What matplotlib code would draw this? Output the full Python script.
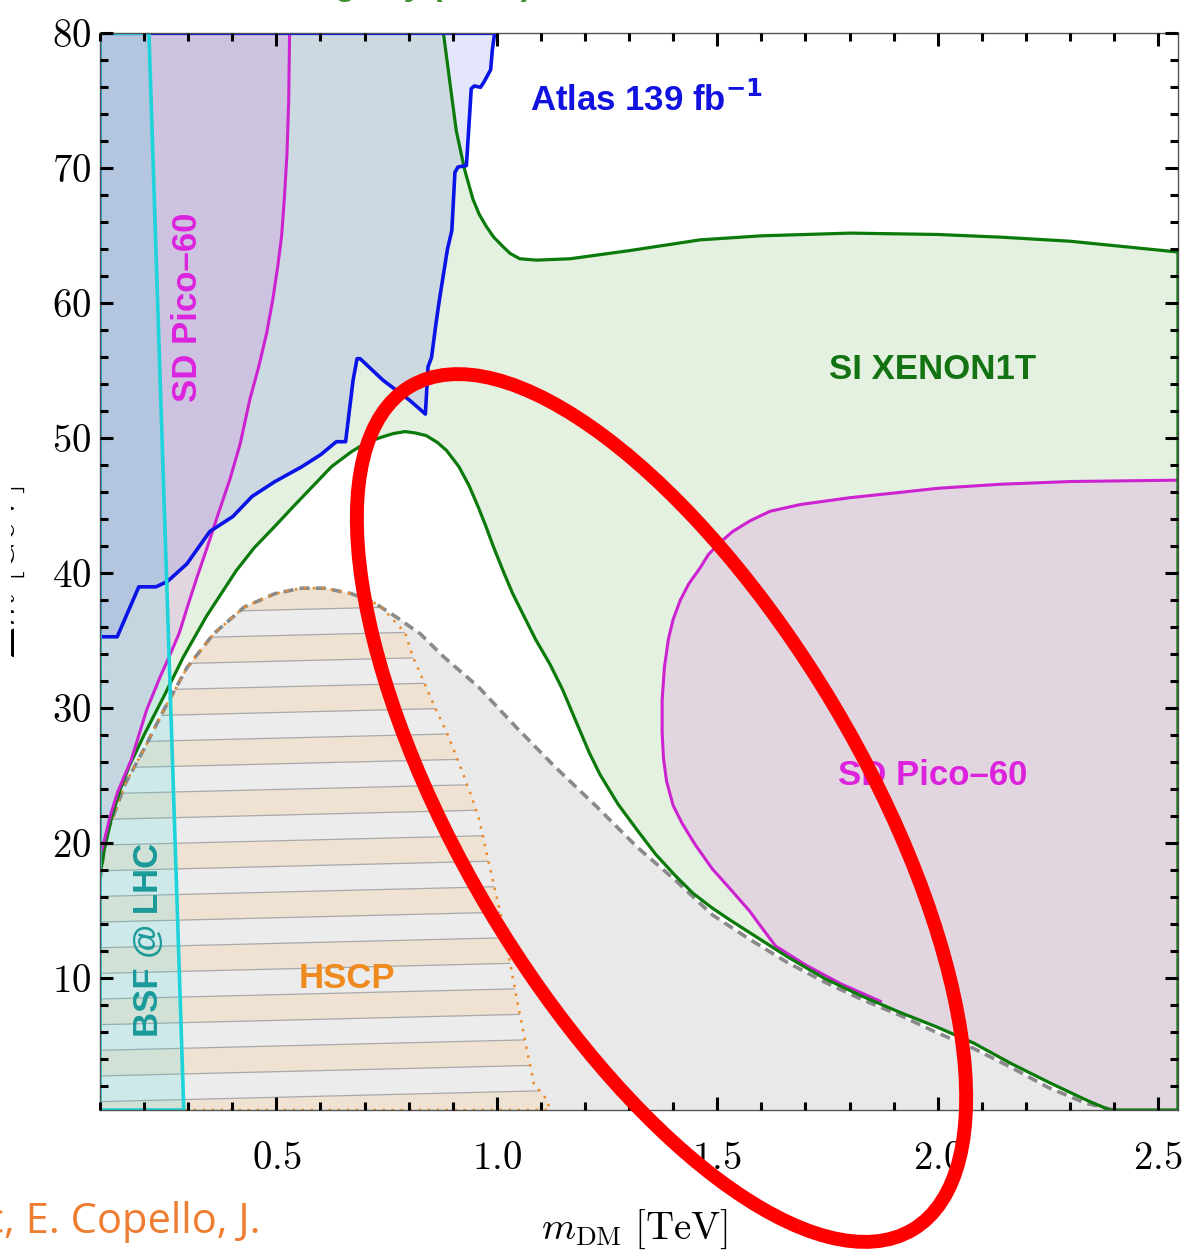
import numpy as np
import matplotlib
matplotlib.use("Agg")
import matplotlib.pyplot as plt
from matplotlib.patches import Polygon, Ellipse
from matplotlib.transforms import Bbox
from matplotlib.ticker import MultipleLocator, FixedLocator, FuncFormatter

# ---------------- data ----------------
x_range = [0.1, 2.545]
y_range = [0.25, 80.0]

# ATLAS 139 fb^-1 exclusion boundary (excluded: upper left)
atlas_x = [0.100, 0.139, 0.188, 0.227, 0.253, 0.297, 0.349, 0.401, 0.445, 0.497,
           0.558, 0.601, 0.636, 0.657, 0.674, 0.683, 0.690, 0.742, 0.803, 0.838,
           0.844, 0.852, 0.862, 0.870, 0.888, 0.898, 0.905, 0.912, 0.931, 0.938,
           0.942, 0.949, 0.963, 0.971, 0.986, 0.990, 0.995]
atlas_y = [35.3, 35.3, 39.0, 39.0, 39.4, 40.7, 43.1, 44.2, 45.7, 46.8,
           47.9, 48.8, 49.75, 49.75, 54.3, 55.9, 55.9, 54.3, 52.8, 51.8,
           55.3, 56.0, 58.5, 60.3, 64.0, 65.4, 69.7, 70.1, 70.2, 73.8,
           75.9, 76.1, 76.0, 76.4, 77.3, 78.8, 80.0]

# SI XENON1T: lower and upper boundaries
xenon_lo_x = [0.100, 0.110, 0.127, 0.145, 0.166, 0.201, 0.245, 0.289, 0.341, 0.409,
              0.450, 0.497, 0.540, 0.584, 0.625, 0.670, 0.705, 0.740, 0.765, 0.792,
              0.815, 0.840, 0.865, 0.886, 0.914, 0.937, 0.958, 0.975, 0.992, 1.014,
              1.036, 1.062, 1.088, 1.120, 1.149, 1.180, 1.210, 1.234, 1.275, 1.318,
              1.360, 1.405, 1.445, 1.489, 1.530, 1.573, 1.659, 1.743, 1.827, 1.913,
              1.998, 2.082, 2.166, 2.252, 2.336, 2.390]
xenon_lo_y = [17.6, 19.6, 22.0, 23.9, 25.7, 28.1, 30.9, 33.8, 36.8, 40.2,
              41.9, 43.5, 45.0, 46.5, 47.9, 49.0, 49.7, 50.1, 50.35, 50.5,
              50.4, 50.2, 49.7, 49.1, 47.9, 46.5, 44.9, 43.5, 42.0, 40.2,
              38.5, 36.8, 35.1, 33.3, 31.4, 29.0, 26.7, 25.1, 22.9, 21.0,
              19.2, 17.6, 16.3, 15.2, 14.3, 13.4, 11.6, 10.0, 8.7, 7.5,
              6.4, 5.2, 3.7, 2.3, 1.0, 0.25]
xenon_up_x = [0.879, 0.893, 0.908, 0.927, 0.946, 0.960, 0.976, 0.993, 1.014, 1.030,
              1.052, 1.090, 1.166, 1.300, 1.461, 1.600, 1.802, 2.000, 2.143, 2.300,
              2.545]
xenon_up_y = [80.0, 76.5, 72.8, 69.9, 67.7, 66.6, 65.7, 64.9, 64.2, 63.7,
              63.3, 63.2, 63.3, 63.9, 64.7, 65.0, 65.2, 65.1, 64.9, 64.6,
              63.8]

# SD Pico-60: left region boundary and right region boundary
pico_l_x = [0.100, 0.106, 0.123, 0.140, 0.158, 0.171, 0.188, 0.206, 0.236, 0.258,
            0.280, 0.300, 0.323, 0.345, 0.366, 0.395, 0.418, 0.440, 0.460, 0.478,
            0.492, 0.503, 0.512, 0.518, 0.524, 0.528, 0.530]
pico_l_y = [19.2, 19.7, 22.0, 23.8, 25.2, 26.2, 28.0, 29.9, 32.3, 33.9,
            35.6, 37.7, 40.0, 42.1, 44.2, 47.0, 49.6, 52.9, 55.3, 57.8,
            60.3, 62.7, 65.0, 67.7, 71.0, 75.0, 80.0]
pico_r_x = [2.545, 2.300, 2.143, 2.000, 1.916, 1.800, 1.689, 1.620, 1.575, 1.535,
            1.507, 1.480, 1.461, 1.435, 1.416, 1.400, 1.389, 1.380, 1.375, 1.375,
            1.378, 1.385, 1.400, 1.420, 1.450, 1.489, 1.530, 1.573, 1.600, 1.632,
            1.700, 1.780, 1.870]
pico_r_y = [46.9, 46.8, 46.6, 46.3, 46.0, 45.6, 45.1, 44.6, 43.9, 43.1,
            42.3, 41.4, 40.4, 39.2, 38.0, 36.6, 35.1, 33.0, 30.6, 28.2,
            26.3, 24.6, 22.8, 21.5, 19.9, 18.1, 16.6, 15.0, 13.8, 12.4,
            11.0, 9.6, 8.3]

# grey dashed envelope
dash_x = [0.100, 0.114, 0.157, 0.200, 0.245, 0.297, 0.357, 0.427, 0.497, 0.557,
          0.609, 0.670, 0.723, 0.775, 0.827, 0.880, 0.958, 1.044, 1.131, 1.227,
          1.319, 1.404, 1.489, 1.573, 1.658, 1.742, 1.827, 1.912, 1.997, 2.082,
          2.167, 2.250, 2.336, 2.400]
dash_y = [17.3, 20.6, 24.4, 27.0, 29.9, 33.0, 35.5, 37.5, 38.5, 38.9,
          38.9, 38.5, 37.8, 36.7, 35.5, 33.8, 31.6, 28.6, 25.7, 22.7,
          19.7, 17.3, 14.7, 12.9, 11.2, 9.75, 8.45, 7.3, 6.0, 4.8,
          3.4, 1.93, 0.75, 0.25]

# HSCP region upper boundary
hscp_x = [0.100, 0.114, 0.157, 0.200, 0.245, 0.297, 0.357, 0.427, 0.497, 0.557,
          0.609, 0.670, 0.723, 0.741, 0.792, 0.810, 0.836, 0.862, 0.888, 0.905,
          0.923, 0.940, 0.958, 0.971, 0.980, 1.010, 1.036, 1.062, 1.084, 1.114, 1.120]
hscp_y = [17.3, 20.6, 24.4, 27.0, 29.9, 33.0, 35.5, 37.5, 38.5, 38.9,
          38.9, 38.5, 37.8, 37.4, 35.6, 33.8, 31.85, 29.9, 28.1, 26.7,
          25.2, 23.7, 22.0, 20.2, 18.8, 14.6, 10.1, 5.7, 2.2, 1.0, 0.25]

# BSF @ LHC boundary line
bsf_x = [0.211, 0.290]
bsf_y = [80.0, 0.25]

x_major = [0.5, 1.0, 1.5, 2.0, 2.5]
x_major_labels = ["0.5", "1.0", "1.5", "2.0", "2.5"]
y_major = [10, 20, 30, 40, 50, 60, 70, 80]

# ---------------- figure ----------------
plt.rcParams['mathtext.fontset'] = 'cm'
plt.rcParams['font.family'] = ['Liberation Sans', 'DejaVu Sans']

W, H = 1189, 1253
fig = plt.figure(figsize=(W / 100, H / 100), dpi=100)
ax = fig.add_axes([100 / W, 1 - 1110 / H, 1078 / W, (1110 - 33.3) / H])
x0, x1 = x_range
y0, y1 = y_range
ax.set_xlim(x0, x1)
ax.set_ylim(y0, y1)

# grey fill under dashed envelope
ax.fill(np.r_[dash_x, dash_x[0]], np.r_[dash_y, y0], color='#e9e9e9', lw=0, zorder=1.0)

# HSCP region with striped hatch
hpoly = Polygon(np.column_stack([np.r_[hscp_x, x0], np.r_[hscp_y, y0]]), closed=True,
                facecolor='#ececec', edgecolor='none', zorder=1.1)
ax.add_patch(hpoly)
xs = np.linspace(x0, 1.3, 20)
stripe_base, stripe_sp, stripe_slope = 0.87, 1.9, 0.8
for k in range(-1, 22):
    lo = stripe_base + stripe_sp * k + stripe_slope * (xs - x0)
    hi = lo + stripe_sp
    if k % 2 == 1:
        pc = ax.fill_between(xs, lo, hi, color='#efe2d3', lw=0, zorder=1.2)
        pc.set_clip_path(hpoly)
    if k >= 0:
        ln, = ax.plot(xs, lo, color='#a8a8a8', lw=0.9, zorder=1.3)
        ln.set_clip_path(hpoly)

# XENON1T region
xen_px = np.r_[xenon_lo_x, x1, xenon_up_x[::-1], x0]
xen_py = np.r_[xenon_lo_y, y0, xenon_up_y[::-1], y1]
ax.fill(xen_px, xen_py, color='#4b9b30', alpha=0.15, lw=0, zorder=1.4)

# Atlas region
atl_px = np.r_[atlas_x, x0]
atl_py = np.r_[atlas_y, y1]
ax.fill(atl_px, atl_py, color='#505ae6', alpha=0.15, lw=0, zorder=1.5)

# Pico-60 regions
pico_col = '#d23ce6'
ax.fill(np.r_[pico_l_x, x0], np.r_[pico_l_y, y1], color=pico_col, alpha=0.14, lw=0, zorder=1.6)
gx = np.array(xenon_lo_x)
gy = np.array(xenon_lo_y)
sel = gx > pico_r_x[-1]
ax.fill(np.r_[pico_r_x, gx[sel], x1], np.r_[pico_r_y, gy[sel], y0],
        color=pico_col, alpha=0.14, lw=0, zorder=1.6)

# BSF region
bsf_px = [x0, bsf_x[1], bsf_x[0], x0]
bsf_py = [y0, bsf_y[1], bsf_y[0], y1]
ax.fill(bsf_px, bsf_py, color='#28dce1', alpha=0.15, lw=0, zorder=1.7)

# ---------------- lines ----------------
ax.plot(dash_x, dash_y, color='#8a8a8a', lw=2.6, dashes=(2.8, 1.7), zorder=2.0)
ax.plot(np.r_[hscp_x, x0, hscp_x[0]], np.r_[hscp_y, y0, hscp_y[0]], color='#e98a2b',
        lw=1.8, linestyle=(0, (1, 2.6)), zorder=2.05)
ax.plot(pico_r_x, pico_r_y, color='#cc22d0', lw=2.2, zorder=2.08)
ax.plot(np.r_[xen_px, xen_px[0]], np.r_[xen_py, xen_py[0]], color='#0b7a0b', lw=2.3, zorder=2.1)
ax.plot(pico_l_x, pico_l_y, color='#cc22d0', lw=2.2, zorder=2.2)
ax.plot(np.r_[atl_px, atl_px[0]], np.r_[atl_py, atl_py[0]], color='#0a14e6', lw=2.6, zorder=2.3)
ax.plot(np.r_[bsf_px, bsf_px[0]], np.r_[bsf_py, bsf_py[0]], color='#1fd3da', lw=2.6, zorder=2.4)

# ---------------- labels inside ----------------
ax.text(1.075, 75.1, r'Atlas 139 fb$^{\mathbf{-1}}$', color='#1212e0', fontsize=25,
        fontweight='bold', ha='left', va='center', math_fontfamily='dejavusans', zorder=3)
ax.text(1.989, 55.1, 'SI XENON1T', color='#137313', fontsize=25, fontweight='bold',
        ha='center', va='center', zorder=3)
ax.text(1.989, 25.0, 'SD Pico\u201360', color='#dd22dd', fontsize=25, fontweight='bold',
        ha='center', va='center', zorder=3)
ax.text(0.298, 59.7, 'SD Pico\u201360', color='#dd22dd', fontsize=25, fontweight='bold',
        ha='center', va='center', rotation=90, zorder=3)
ax.text(0.659, 10.0, 'HSCP', color='#ef8a1f', fontsize=25, fontweight='bold',
        ha='center', va='center', zorder=3)
ax.text(0.21, 12.85, 'BSF @ LHC', color='#1a9a9a', fontsize=25, fontweight='bold',
        ha='center', va='center', rotation=90, zorder=3)

# ---------------- axes styling ----------------
ax.set_axisbelow(False)
ax.xaxis.set_major_locator(FixedLocator(x_major))
ax.xaxis.set_minor_locator(MultipleLocator(0.1))
ax.yaxis.set_major_locator(FixedLocator(y_major))
ax.yaxis.set_minor_locator(MultipleLocator(2))
ax.xaxis.set_major_formatter(FuncFormatter(
    lambda v, p: '$%s$' % x_major_labels[x_major.index(round(v, 1))] if round(v, 1) in x_major else ''))
ax.yaxis.set_major_formatter(FuncFormatter(lambda v, p: '$%d$' % v))
ax.tick_params(which='both', direction='in', top=True, right=True, width=2.2, color='black')
ax.tick_params(which='major', length=9.5, labelsize=28)
ax.tick_params(which='minor', length=5.5)
ax.tick_params(axis='x', which='major', pad=22)
ax.tick_params(axis='y', which='major', pad=6)
for s in ax.spines.values():
    s.set_color('#555555')
    s.set_linewidth(1.0)

fig.text(635 / W, 1 - 1229 / H, r'$m_{\rm DM}\ [{\rm TeV}]$', fontsize=28,
         ha='center', va='center')
# y label: only a thin sliver of it is visible in the cropped original
ylab = fig.text(15 / W, 1 - 572 / H, r'$\Delta m\ [{\rm GeV}]$', fontsize=28, rotation=90,
                rotation_mode='anchor', ha='center', va='baseline')
ylab.set_clip_box(Bbox.from_extents(11, 0, W, H))
ylab.set_clip_on(True)

# cropped caption fragments around the figure
fig.text(-16 / W, 1 - 1222 / H, 'c, E. Copello, J.', fontsize=30, color='#ee7d31',
         family=['Open Sans', 'DejaVu Sans'], ha='left', va='center')
fig.text(283 / W, 1 + 4.5 / H, 'Singlet y (fixed)', fontsize=24, color='#3a8f2a',
         fontweight='bold', ha='left', va='baseline')

# red annotation ellipse
ell = Ellipse((6.615, 4.45), 9.816, 4.01, angle=-59.2, transform=fig.dpi_scale_trans,
              fill=False, edgecolor='#ff0000', lw=10, zorder=10)
fig.add_artist(ell)

fig.savefig('out.png', dpi=100)
